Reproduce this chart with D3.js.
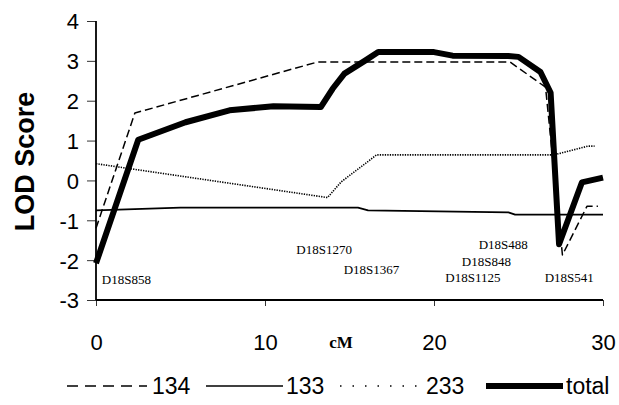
<!DOCTYPE html>
<html>
<head>
<meta charset="utf-8">
<script src="https://cdn.jsdelivr.net/npm/d3@7"></script>
<style>
  body { margin: 0; background: #fff; }
</style>
</head>
<body>
<div id="lodPlot"></div>
<script>
// values (cM, LOD score)
const totalCM  = [0, 2.5, 5.3, 7.9, 10.5, 13.3, 14.0, 14.7, 15.9, 16.7, 20.0, 21.1, 24.4, 25.0, 26.3, 26.9, 27.4, 28.75, 30]
const totalLod = [-2.08, 1.02, 1.46, 1.76, 1.86, 1.84, 2.3, 2.68, 3.0, 3.22, 3.22, 3.13, 3.12, 3.1, 2.72, 2.2, -1.6, -0.05, 0.07]

const fam134CM  = [0, 2.3, 13.1, 24.5, 26.6, 27.6, 29.05, 29.7]
const fam134Lod = [-1.2, 1.69, 2.97, 2.97, 2.34, -1.87, -0.65, -0.65]

const fam133CM  = [0, 5, 15.5, 16.1, 24.4, 24.8, 30]
const fam133Lod = [-0.75, -0.68, -0.68, -0.75, -0.8, -0.86, -0.86]

const fam233CM  = [0, 13.7, 14.5, 16.6, 27.1, 29.1, 29.5]
const fam233Lod = [0.42, -0.43, -0.04, 0.64, 0.64, 0.86, 0.86]

// marker labels: name, centre position in cM, baseline in LOD units
const markerNames = ['D18S858', 'D18S1270', 'D18S1367', 'D18S488', 'D18S848', 'D18S1125', 'D18S541']
const markerCM    = [1.8, 13.5, 16.3, 24.1, 23.1, 22.3, 28.0]
const markerLod   = [-2.59, -1.84, -2.35, -1.71, -2.14, -2.56, -2.56]

const xTicks = [0, 10, 20, 30]
const yTicks = [-3, -2, -1, 0, 1, 2, 3, 4]
const legendNames = ['134', '133', '233', 'total']

class lodPlot{
    constructor(){
        this.width = 619
        this.height = 405
        //plot area in pixels
        this.plot = {left: 96, right: 603, top: 21, bottom: 300}
    }

    createPlot(){
        this.svg = d3.select('#lodPlot')
            .append('svg')
            .attr('width', this.width)
            .attr('height', this.height)

        this.xScale = d3.scaleLinear()
            .domain([0, 30])
            .range([this.plot.left, this.plot.right])

        this.yScale = d3.scaleLinear()
            .domain([-3, 4])
            .range([this.plot.bottom, this.plot.top])

        //Y axis
        var yAxis = d3.axisLeft(this.yScale)
            .tickValues(yTicks)
            .tickSize(9)
            .tickPadding(8)
            .tickFormat(d3.format('d'))

        var yG = this.svg.append('g')
            .attr('transform', `translate(${this.plot.left},0)`)
            .call(yAxis)
        yG.select('.domain').attr('stroke-width', 1.8).attr('d', `M0,${this.plot.top}V${this.plot.bottom}`)
        yG.selectAll('.tick line').attr('stroke-width', 0.8)
        yG.selectAll('text')
            .attr('font-family', 'Liberation Sans, Arial, sans-serif')
            .attr('font-size', 22)
            .attr('dy', '0.36em')
            .text(d => d < 0 ? '-' + Math.abs(d) : d)

        //X axis
        var xAxis = d3.axisBottom(this.xScale)
            .tickValues(xTicks)
            .tickSize(6)
            .tickPadding(28)

        var xG = this.svg.append('g')
            .attr('transform', `translate(0,${this.plot.bottom})`)
            .call(xAxis)
        xG.select('.domain').attr('stroke-width', 1.8).attr('d', `M${this.plot.left},0H${this.plot.right}`)
        xG.selectAll('.tick line').attr('stroke-width', 0.8)
        xG.selectAll('text')
            .attr('font-family', 'Liberation Sans, Arial, sans-serif')
            .attr('font-size', 22)

        //axis titles
        this.svg.append('text')
            .attr('transform', `translate(34,${(this.plot.top + this.plot.bottom) / 2 + 1}) rotate(-90)`)
            .attr('text-anchor', 'middle')
            .attr('font-family', 'Liberation Sans, Arial, sans-serif')
            .attr('font-weight', 'bold')
            .attr('font-size', 27)
            .text('LOD Score')

        this.svg.append('text')
            .attr('x', 341)
            .attr('y', 348)
            .attr('text-anchor', 'middle')
            .attr('font-family', 'Liberation Serif, Times New Roman, serif')
            .attr('font-weight', 'bold')
            .attr('font-size', 17)
            .text('cM')
    }

    drawPlot(){
        var line = d3.line()
            .x(d => this.xScale(d[0]))
            .y(d => this.yScale(d[1]))

        var zip = (a, b) => a.map((d, i) => [d, b[i]])

        this.series = [
            {name: '134', pts: zip(fam134CM, fam134Lod), width: 1.5, dash: '8,4'},
            {name: '133', pts: zip(fam133CM, fam133Lod), width: 1.8, dash: null},
            {name: '233', pts: zip(fam233CM, fam233Lod), width: 1.6, dash: '1.3,1.2'},
            {name: 'total', pts: zip(totalCM, totalLod), width: 6, dash: null}
        ]

        this.svg.append('g')
            .selectAll('path')
            .data(this.series)
            .enter()
            .append('path')
            .attr('d', d => line(d.pts))
            .attr('fill', 'none')
            .attr('stroke', '#000')
            .attr('stroke-width', d => d.width)
            .attr('stroke-dasharray', d => d.dash)
            .attr('stroke-linejoin', 'round')

        //marker names
        this.svg.append('g')
            .selectAll('text')
            .data(markerNames)
            .enter()
            .append('text')
            .attr('x', (d, i) => this.xScale(markerCM[i]))
            .attr('y', (d, i) => this.yScale(markerLod[i]))
            .attr('text-anchor', 'middle')
            .attr('font-family', 'Liberation Serif, Times New Roman, serif')
            .attr('font-size', 13)
            .text(d => d)
    }

    drawLegend(){
        //legend sample positions (line start, line end, label start)
        var items = [
            {x0: 67, x1: 147, tx: 152, width: 1.5, dash: '11,7'},
            {x0: 206, x1: 283, tx: 286, width: 1.5, dash: null},
            {x0: 340, x1: 425, tx: 426, width: 1.5, dash: '1.5,11'},
            {x0: 486, x1: 563, tx: 566, width: 6, dash: null}
        ]
        var legendY = 386
        var g = this.svg.append('g')

        g.selectAll('line')
            .data(items)
            .enter()
            .append('line')
            .attr('x1', d => d.x0)
            .attr('x2', d => d.x1)
            .attr('y1', legendY)
            .attr('y2', legendY)
            .attr('stroke', '#000')
            .attr('stroke-width', d => d.width)
            .attr('stroke-dasharray', d => d.dash)

        g.selectAll('text')
            .data(items)
            .enter()
            .append('text')
            .attr('x', d => d.tx)
            .attr('y', legendY + 8)
            .attr('font-family', 'Liberation Sans, Arial, sans-serif')
            .attr('font-size', 23)
            .text((d, i) => legendNames[i])
    }
}

var plot = new lodPlot()
plot.createPlot()
plot.drawPlot()
plot.drawLegend()
</script>
</body>
</html>
